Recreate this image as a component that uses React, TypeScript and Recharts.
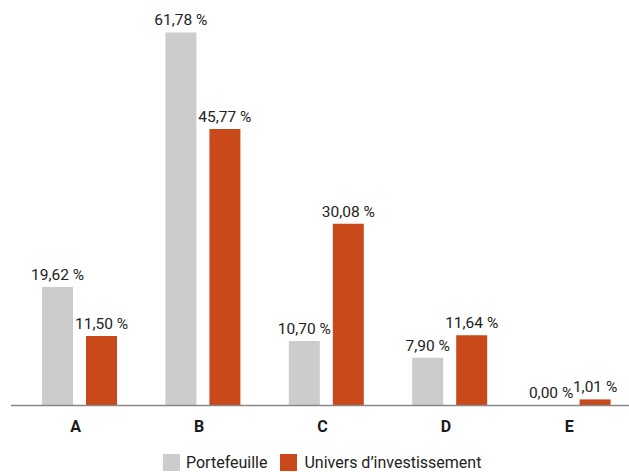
import React from 'react';
import { BarChart, Bar, XAxis, YAxis, LabelList, Legend } from 'recharts';

const categories = ['A', 'B', 'C', 'D', 'E'];
const portefeuille = [19.62, 61.78, 10.7, 7.9, 0.0];
const univers = [11.5, 45.77, 30.08, 11.64, 1.01];
const seriesNames = ['Portefeuille', 'Univers d\u2019investissement'];

const GRAY = '#CCCCCC';
const ORANGE = '#C9491A';
const FONT = 'Roboto, "Noto Sans", sans-serif';

const data = categories.map((c, i) => ({ cat: c, p: portefeuille[i], u: univers[i] }));

const fmt = (v: any) => Number(v).toFixed(2).replace('.', ',') + '\u00a0%';

const ValueLabel = (props: any) => {
  const { x, y, width, height, value } = props;
  if (value === undefined || value === null) return null;
  const top = Math.min(Number(y), Number(y) + Number(height || 0));
  return (
    <text
      x={Number(x) + Number(width) / 2}
      y={top - 7}
      textAnchor="middle"
      fill="#222"
      fontSize={15.5}
      fontFamily={FONT}
    >
      {fmt(value)}
    </text>
  );
};

const LegendContent = () => (
  <div style={{ position: 'relative', height: 40, width: 629, fontFamily: FONT }}>
    <div style={{ position: 'absolute', top: 21, left: 163, display: 'flex', alignItems: 'center', fontSize: 16, color: '#222', whiteSpace: 'nowrap' }}>
      <span style={{ display: 'inline-block', width: 17, height: 17, background: GRAY, marginRight: 6 }} />
      <span style={{ marginRight: 13 }}>{seriesNames[0]}</span>
      <span style={{ display: 'inline-block', width: 17, height: 17, background: ORANGE, marginRight: 7 }} />
      <span>{seriesNames[1]}</span>
    </div>
  </div>
);

export default function App() {
  return (
    <div style={{ position: 'absolute', left: 0, top: 0, width: 629, height: 472, overflow: 'hidden', background: '#fff' }}>
      <BarChart
        width={640}
        height={472}
        data={data}
        margin={{ top: 13, left: 11, right: 5, bottom: 0 }}
        barGap={13}
        barSize={31}
      >
        <YAxis hide domain={[0, 65]} />
        <XAxis
          dataKey="cat"
          height={26.5}
          padding={{ left: 7, right: 0 }}
          axisLine={{ stroke: '#888', strokeWidth: 1.5 }}
          tickLine={false}
          tickSize={0}
          tickMargin={15}
          dx={-4}
          tick={{ fill: '#1a1a1a', fontSize: 16, fontWeight: 700, fontFamily: FONT }}
          interval={0}
        />
        <Legend verticalAlign="bottom" height={40} wrapperStyle={{ left: 0, width: 629 }} content={<LegendContent />} />
        <Bar dataKey="p" name={seriesNames[0]} fill={GRAY} minPointSize={0.01} isAnimationActive={false}>
          <LabelList dataKey="p" content={<ValueLabel />} />
        </Bar>
        <Bar dataKey="u" name={seriesNames[1]} fill={ORANGE} minPointSize={0.01} isAnimationActive={false}>
          <LabelList dataKey="u" content={<ValueLabel />} />
        </Bar>
      </BarChart>
    </div>
  );
}
